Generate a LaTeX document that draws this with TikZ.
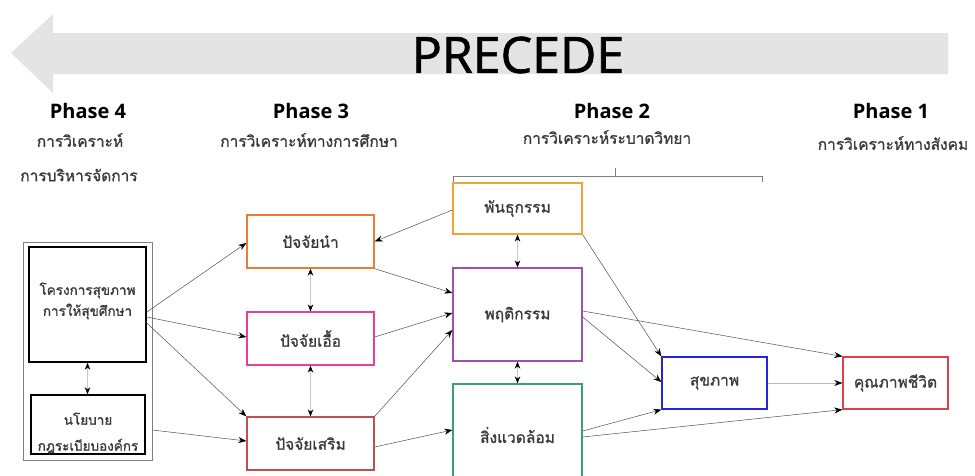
\documentclass[tikz,border=0pt]{standalone}
\usepackage{fontspec}
\setmainfont{Open Sans}
\newfontfamily\thai[Script=Thai,FakeBold=1.1]{Loma}
\newfontfamily\precfont[FakeBold=1.3]{Open Sans}
\usetikzlibrary{arrows.meta,calc}
\definecolor{arrowgray}{HTML}{E4E4E4}
\definecolor{txtgray}{HTML}{3A3A3A}
\definecolor{cOrange}{HTML}{ED7D31}
\definecolor{cPink}{HTML}{E8409A}
\definecolor{cBrick}{HTML}{C0504D}
\definecolor{cGold}{HTML}{EFA535}
\definecolor{cPurple}{HTML}{9E4FB0}
\definecolor{cGreen}{HTML}{3AA070}
\definecolor{cBlue}{HTML}{2525E0}
\definecolor{cRed}{HTML}{E0404C}
\definecolor{lineGray}{HTML}{505050}
\tikzset{
  box/.style={draw=#1, line width=1.3pt, fill=white, inner sep=0pt, align=center,
    font=\thai\fontsize{15.5}{20}\selectfont, text=txtgray},
  plain/.style={inner sep=0pt, align=center, font=\thai\fontsize{13.5}{#1}\selectfont, text=txtgray},
  conn/.style={draw=lineGray, line width=0.5pt, -{Stealth[length=8pt,width=6pt,black]}},
  dbl/.style={draw=gray!45, line width=0.6pt, {Stealth[length=7pt,width=5.5pt,black]}-{Stealth[length=7pt,width=5.5pt,black]}},
  phase/.style={font=\bfseries\fontsize{20}{22}\selectfont, text=black},
  thaihead/.style={font=\thai\fontsize{15.5}{17}\selectfont, text=txtgray}
}
\begin{document}
\begin{tikzpicture}[x=1pt,y=-1pt]
\clip (0,0) rectangle (975,475);
\fill[white] (0,0) rectangle (975,475);
% big arrow
\fill[arrowgray] (11,53) -- (53,14) -- (53,33) -- (948,33) -- (948,74) -- (53,74) -- (53,93) -- cycle;
\node[font=\precfont\fontsize{50}{50}\selectfont, text=black, inner sep=0pt] (prec) at (518,55) {PRECEDE};
% phase headings
\node[phase] (ph4) at (88,111) {Phase 4};
\node[thaihead] (ph4a) at (80,140) {การวิเคราะห์};
\node[thaihead] (ph4b) at (79,175) {การบริหารจัดการ};
\node[phase] (ph3) at (311,111) {Phase 3};
\node[thaihead] (ph3a) at (309,140) {การวิเคราะห์ทางการศึกษา};
\node[phase] (ph2) at (612,111) {Phase 2};
\node[thaihead] (ph2a) at (607,137) {การวิเคราะห์ระบาดวิทยา};
\node[phase] (ph1) at (891,111) {Phase 1};
\node[thaihead] (ph1a) at (893,143) {การวิเคราะห์ทางสังคม};
% bracket
\coordinate (brL) at (453,182);
\coordinate (brLt) at (453,176);
\coordinate (brR) at (762,182);
\coordinate (brRt) at (762,176);
\coordinate (brM) at (615,176);
\coordinate (brMt) at (615,168);
\draw[gray, line width=0.6pt] (brL) -- (brLt) -- (brRt) -- (brR);
\draw[gray, line width=0.6pt] (brM) -- (brMt);
% phase 4
\node[draw=gray, line width=0.6pt, minimum width=129pt, minimum height=218pt, inner sep=0pt] (outer) at (87.5,351) {};
\node[box=black, line width=1.6pt, minimum width=117pt, minimum height=115pt] (pa) at (87.5,304.5) {};
\node[plain=21] (pat) at (87.5,301) {โครงการสุขภาพ\\การให้สุขศึกษา};
\node[box=black, line width=1.6pt, minimum width=114pt, minimum height=59pt] (pb) at (88,424.5) {};
\node[plain=26] (pbt) at (88,433) {นโยบาย\\กฎระเบียบองค์กร};
% phase 3
\node[box=cOrange, minimum width=127pt, minimum height=53pt] (n1) at (310.5,241.5) {ปัจจัยนำ};
\node[box=cPink, minimum width=127pt, minimum height=53pt] (n2) at (310.5,338.5) {ปัจจัยเอื้อ};
\node[box=cBrick, minimum width=127pt, minimum height=53pt] (n3) at (310.5,443.5) {ปัจจัยเสริม};
% phase 2
\node[box=cGold, minimum width=129pt, minimum height=51pt] (g) at (517.5,208.5) {พันธุกรรม};
\node[box=cPurple, minimum width=129pt, minimum height=93pt] (b) at (517.5,314.5) {พฤติกรรม};
\node[box=cGreen, minimum width=129pt, minimum height=102pt] (e) at (517.5,435) {สิ่งแวดล้อม};
% right
\node[box=cBlue, minimum width=105pt, minimum height=52pt] (h) at (714.5,383) {สุขภาพ};
\node[box=cRed, minimum width=105pt, minimum height=52pt] (q) at (895.5,383) {คุณภาพชีวิต};
% double arrows
\draw[dbl] (pa.south) -- (pa.south |- pb.north);
\draw[dbl] (n1.south) -- (n2.north);
\draw[dbl] (n2.south) -- (n3.north);
\draw[dbl] (g.south) -- (b.north);
\draw[dbl] (b.south) -- (e.north);
% connectors
\draw[conn] ($(pa.east)+(0,7.5)$) -- ($(n1.west)+(0,1.5)$);
\draw[conn] ($(pa.east)+(0,12.5)$) -- ($(n2.west)+(0,-1.5)$);
\draw[conn] ($(pa.east)+(0,18.5)$) -- (n3.north west);
\draw[conn] ($(pb.east -| outer.east)+(0,5.5)$) -- ($(n3.west)+(0,-2.5)$);
\draw[conn] ($(g.west)+(0,1.5)$) -- (n1.east);
\draw[conn] (n1.south east) -- ($(b.west)+(0,-21.5)$);
\draw[conn] ($(n2.east)+(0,-1.5)$) -- ($(b.west)+(0,-1.5)$);
\draw[conn] (n3.north east) -- ($(b.west)+(0,15.5)$);
\draw[conn] ($(n3.east)+(0,3.5)$) -- ($(e.west)+(0,-5)$);
\draw[conn] (g.south east) -- (h.north west);
\draw[conn] ($(b.east)+(0,-3.5)$) -- (q.north west);
\draw[conn] ($(b.east)+(0,2.5)$) -- ($(h.west)+(0,-1)$);
\draw[conn, draw=gray!55] (h.east) -- (q.west);
\draw[conn] ($(e.east)+(0,-4)$) -- (h.south west);
\draw[conn] ($(e.east)+(0,2)$) -- (q.south west);
\end{tikzpicture}
\end{document}
